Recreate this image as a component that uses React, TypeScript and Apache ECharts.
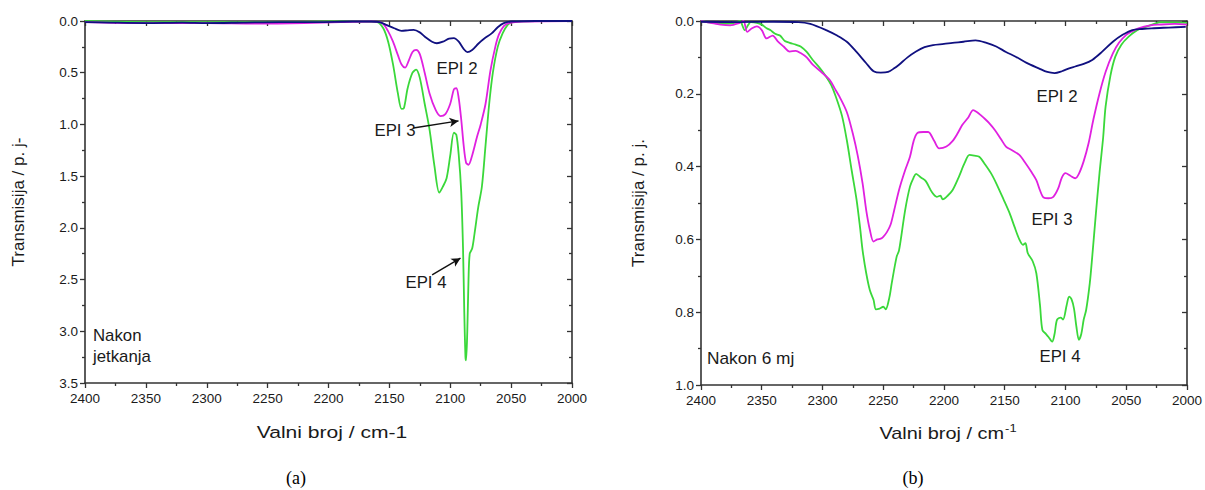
import React, { useEffect, useRef } from "react";
import * as echarts from "echarts";

// ---------- DATA ----------
const xTicksA = [2400, 2350, 2300, 2250, 2200, 2150, 2100, 2050, 2000];
const yTicksA = [0.0, 0.5, 1.0, 1.5, 2.0, 2.5, 3.0, 3.5];
const yTicksB = [0.0, 0.2, 0.4, 0.6, 0.8, 1.0];

// (a) Nakon jetkanja: [wavenumber, transmission]
const aEpi2 = [
  [2400, 0.01], [2380, 0.015], [2350, 0.02], [2320, 0.015], [2300, 0.02], [2270, 0.015],
  [2240, 0.01], [2210, 0.01], [2180, 0.005], [2165, 0.005], [2158, 0.01], [2152, 0.04],
  [2146, 0.07], [2140, 0.095], [2135, 0.09], [2130, 0.085], [2125, 0.11], [2120, 0.16],
  [2115, 0.2], [2111, 0.215], [2106, 0.2], [2101, 0.17], [2097, 0.165], [2093, 0.2],
  [2089, 0.27], [2086, 0.3], [2082, 0.28], [2077, 0.22], [2072, 0.17], [2066, 0.12],
  [2061, 0.06], [2056, 0.02], [2050, 0.005], [2030, 0.0], [2000, 0.0],
];
const aEpi3 = [
  [2400, 0.01], [2350, 0.02], [2300, 0.02], [2260, 0.025], [2220, 0.02], [2190, 0.01],
  [2165, 0.005], [2156, 0.02], [2151, 0.1], [2147, 0.2], [2143, 0.33], [2140, 0.42],
  [2137, 0.45], [2134, 0.38], [2131, 0.3], [2128, 0.28], [2125, 0.32], [2121, 0.5],
  [2117, 0.7], [2112, 0.86], [2108, 0.92], [2104, 0.9], [2100, 0.8], [2097, 0.66],
  [2095, 0.65], [2093, 0.75], [2091, 0.95], [2089, 1.2], [2087, 1.37], [2085, 1.39],
  [2082, 1.3], [2078, 1.12], [2075, 1.0], [2071, 0.8], [2067, 0.48], [2063, 0.25],
  [2060, 0.13], [2056, 0.05], [2052, 0.02], [2040, 0.005], [2000, 0.0],
];
const aEpi4 = [
  [2400, 0.0], [2350, 0.01], [2300, 0.01], [2250, 0.01], [2200, 0.005], [2170, 0.005],
  [2160, 0.01], [2155, 0.07], [2151, 0.2], [2147, 0.42], [2143, 0.7], [2140, 0.85],
  [2138, 0.84], [2135, 0.65], [2131, 0.5], [2128, 0.47], [2125, 0.55], [2121, 0.8],
  [2117, 1.05], [2113, 1.4], [2109, 1.66], [2106, 1.6], [2103, 1.52], [2100, 1.3],
  [2097, 1.08], [2095, 1.1], [2093, 1.3], [2091, 1.65], [2089.5, 2.2], [2088.5, 2.8],
  [2087.5, 3.25], [2087, 3.28], [2086, 3.0], [2085, 2.5], [2084, 2.25], [2082, 2.2],
  [2080, 2.05], [2077, 1.8], [2074, 1.6], [2071, 1.2], [2068, 0.8], [2065, 0.5],
  [2061, 0.25], [2057, 0.12], [2053, 0.04], [2049, 0.01], [2030, 0.0], [2000, 0.0],
];

// (b) Nakon 6 mj
const bEpi2 = [
  [2400, 0.002], [2370, 0.003], [2340, 0.002], [2320, 0.003], [2310, 0.008], [2297, 0.025],
  [2288, 0.04], [2280, 0.057], [2272, 0.085], [2264, 0.116], [2258, 0.138], [2252, 0.142],
  [2246, 0.14], [2241, 0.13], [2237, 0.12], [2230, 0.1], [2223, 0.084], [2216, 0.072],
  [2209, 0.066], [2200, 0.063], [2193, 0.06], [2184, 0.057], [2174, 0.053], [2165, 0.06],
  [2157, 0.07], [2149, 0.085], [2141, 0.098], [2132, 0.115], [2122, 0.13], [2115, 0.14],
  [2109, 0.143], [2103, 0.138], [2097, 0.13], [2092, 0.125], [2085, 0.118], [2078, 0.107],
  [2070, 0.085], [2061, 0.057], [2053, 0.038], [2045, 0.025], [2037, 0.022], [2029, 0.02],
  [2015, 0.018], [2001, 0.016],
];
const bEpi3 = [
  [2400, 0.0], [2392, 0.005], [2384, 0.01], [2376, 0.012], [2368, 0.005], [2365, 0.0],
  [2362, 0.03], [2358, 0.02], [2354, 0.015], [2350, 0.025], [2346, 0.048], [2341, 0.04],
  [2337, 0.055], [2332, 0.07], [2327, 0.084], [2322, 0.082], [2318, 0.088], [2313, 0.1],
  [2308, 0.12], [2301, 0.14], [2294, 0.162], [2290, 0.185], [2286, 0.208], [2280, 0.25],
  [2275, 0.31], [2271, 0.37], [2267, 0.446], [2264, 0.52], [2261, 0.574], [2258, 0.606],
  [2255, 0.6], [2252, 0.598], [2250, 0.593], [2247, 0.58], [2244, 0.56], [2241, 0.52],
  [2237, 0.464], [2232, 0.41], [2228, 0.373], [2225, 0.33], [2222, 0.308], [2217, 0.305],
  [2213, 0.305], [2208, 0.33], [2204, 0.35], [2198, 0.345], [2193, 0.33], [2189, 0.31],
  [2185, 0.286], [2180, 0.265], [2176, 0.245], [2173, 0.25], [2170, 0.258], [2166, 0.27],
  [2163, 0.28], [2158, 0.3], [2153, 0.325], [2149, 0.345], [2144, 0.355], [2138, 0.368],
  [2133, 0.39], [2128, 0.415], [2124, 0.437], [2121, 0.465], [2118, 0.485], [2114, 0.487],
  [2110, 0.483], [2106, 0.46], [2103, 0.43], [2100, 0.418], [2096, 0.425], [2092, 0.432],
  [2089, 0.42], [2085, 0.385], [2081, 0.336], [2077, 0.27], [2072, 0.199], [2067, 0.14],
  [2061, 0.089], [2056, 0.06], [2050, 0.038], [2045, 0.028], [2040, 0.02], [2030, 0.012],
  [2023, 0.01], [2010, 0.008], [2000, 0.01],
];
const bEpi4 = [
  [2400, 0.0], [2390, 0.005], [2380, 0.008], [2372, 0.005], [2368, 0.0], [2364, 0.025],
  [2361, 0.01], [2359, 0.003], [2354, 0.005], [2350, 0.01], [2346, 0.02], [2343, 0.025],
  [2339, 0.035], [2335, 0.04], [2331, 0.055], [2327, 0.06], [2322, 0.065], [2318, 0.07],
  [2313, 0.085], [2308, 0.107], [2302, 0.13], [2297, 0.153], [2293, 0.175], [2289, 0.208],
  [2284, 0.26], [2280, 0.327], [2276, 0.41], [2272, 0.49], [2269, 0.57], [2267, 0.63],
  [2264, 0.693], [2261, 0.74], [2258, 0.766], [2256, 0.792], [2253, 0.79], [2250, 0.785],
  [2248, 0.792], [2245, 0.76], [2243, 0.72], [2239, 0.648], [2237, 0.63], [2232, 0.52],
  [2228, 0.455], [2225, 0.43], [2223, 0.42], [2219, 0.43], [2215, 0.44], [2210, 0.47],
  [2206, 0.483], [2203, 0.48], [2201, 0.49], [2197, 0.48], [2193, 0.465], [2188, 0.43],
  [2183, 0.39], [2179, 0.368], [2175, 0.37], [2171, 0.373], [2166, 0.395], [2161, 0.42],
  [2157, 0.446], [2151, 0.49], [2146, 0.528], [2142, 0.565], [2138, 0.6], [2135, 0.615],
  [2133, 0.61], [2131, 0.638], [2127, 0.66], [2124, 0.693], [2121, 0.78], [2119, 0.849],
  [2116, 0.86], [2114, 0.868], [2111, 0.881], [2109, 0.86], [2107, 0.821], [2104, 0.815],
  [2102, 0.82], [2099, 0.78], [2097, 0.757], [2095, 0.765], [2093, 0.79], [2091, 0.84],
  [2089, 0.876], [2087, 0.86], [2085, 0.82], [2083, 0.794], [2080, 0.72], [2078, 0.648],
  [2075, 0.53], [2072, 0.418], [2069, 0.32], [2067, 0.235], [2063, 0.15], [2059, 0.098],
  [2054, 0.065], [2048, 0.043], [2041, 0.025], [2034, 0.016], [2027, 0.008], [2021, 0.003],
  [2010, 0.004], [2000, 0.005],
];

// arrows in (a): [from, to] in data coords
const arrowEpi3 = [[2130.3, 1.034], [2093.2, 0.966]];
const arrowEpi4 = [[2114.9, 2.454], [2091.6, 2.293]];

// ---------- STYLE ----------
const FONT = "'Liberation Sans', Arial, sans-serif";
const SERIF = "'Liberation Serif', 'Times New Roman', serif";
const AX = "#333333";
const TXT = "#1a1a1a";
const C_EPI2 = "#101080";
const C_EPI3 = "#e020e0";
const C_EPI4 = "#3ad83a";

function xAxes(grid: number) {
  const base = {
    gridIndex: grid,
    type: "value",
    min: xTicksA[xTicksA.length - 1],
    max: xTicksA[0],
    interval: 50,
    inverse: true,
    splitLine: { show: false },
    axisLine: { show: true, onZero: false, lineStyle: { color: AX, width: 1.6 } },
  };
  return [
    {
      ...base,
      position: "bottom",
      axisTick: { show: true, inside: false, length: 5, lineStyle: { color: AX, width: 1.3 } },
      minorTick: { show: true, splitNumber: 2, length: 3, lineStyle: { color: AX, width: 1.3 } },
      axisLabel: {
        show: true, fontFamily: FONT, fontSize: 13.5, color: TXT, margin: 8,
        formatter: (v: number) => String(Math.round(v)),
      },
    },
    {
      ...base,
      position: "top",
      axisTick: { show: true, inside: true, length: 5, lineStyle: { color: AX, width: 1.3 } },
      minorTick: { show: true, splitNumber: 2, length: 3, lineStyle: { color: AX, width: 1.3 } },
      axisLabel: { show: false },
    },
  ];
}

function yAxes(grid: number, ticks: number[], step: number, name: string, gap: number) {
  const base = {
    gridIndex: grid,
    type: "value",
    min: ticks[0],
    max: ticks[ticks.length - 1],
    interval: step,
    inverse: true,
    splitLine: { show: false },
    axisLine: { show: true, onZero: false, lineStyle: { color: AX, width: 1.6 } },
  };
  return [
    {
      ...base,
      position: "left",
      axisTick: { show: true, inside: false, length: 5, lineStyle: { color: AX, width: 1.3 } },
      minorTick: { show: true, splitNumber: 2, length: 3, lineStyle: { color: AX, width: 1.3 } },
      axisLabel: {
        show: true, fontFamily: FONT, fontSize: 13.5, color: TXT, margin: 7,
        formatter: (v: number) => v.toFixed(1),
      },
      name,
      nameLocation: "middle",
      nameGap: gap,
      nameRotate: 90,
      nameTextStyle: { fontFamily: FONT, fontSize: 17, color: TXT },
    },
    {
      ...base,
      position: "right",
      axisTick: { show: true, inside: true, length: 5, lineStyle: { color: AX, width: 1.3 } },
      minorTick: { show: true, splitNumber: 2, length: 3, lineStyle: { color: AX, width: 1.3 } },
      axisLabel: { show: false },
    },
  ];
}

function line(data: number[][], color: string, xi: number, yi: number, extra: any = {}) {
  return {
    type: "line",
    data,
    xAxisIndex: xi,
    yAxisIndex: yi,
    showSymbol: false,
    symbol: "none",
    smooth: 0.3,
    lineStyle: { color, width: 1.8 },
    itemStyle: { color },
    silent: true,
    ...extra,
  };
}

function arrowMark(arrows: number[][][]) {
  return {
    markLine: {
      silent: true,
      animation: false,
      symbol: ["none", "arrow"],
      symbolSize: [7, 9],
      label: { show: false },
      lineStyle: { color: "#111", width: 1.4, type: "solid" },
      data: arrows.map((a) => [{ coord: a[0] }, { coord: a[1] }]),
    },
  };
}

function label(text: string, x: number, y: number, align = "center", scaleX = 1.05) {
  return {
    type: "text",
    x,
    y,
    scaleX,
    style: {
      text,
      fontFamily: FONT,
      fontSize: 16,
      fill: TXT,
      align,
      verticalAlign: "middle",
      lineHeight: 21,
    },
  };
}

function xTitle(text: string, x: number, y: number, scaleX: number) {
  return {
    type: "text",
    x,
    y,
    scaleX,
    style: {
      text,
      fontFamily: FONT,
      fontSize: 17,
      fill: TXT,
      align: "center",
      verticalAlign: "middle",
      rich: {
        sup: { fontFamily: FONT, fontSize: 11, fill: TXT, verticalAlign: "top", padding: [0, 0, 10, 1] },
      },
    },
  };
}

export default function App() {
  const ref = useRef<HTMLDivElement>(null);
  useEffect(() => {
    if (!ref.current) return;
    const chart = echarts.init(ref.current, null, { renderer: "svg" });
    const option: any = {
      animation: false,
      backgroundColor: "#ffffff",
      grid: [
        { left: 85, top: 21, width: 487, height: 362 },
        { left: 701, top: 21, width: 487, height: 364 },
      ],
      xAxis: [...xAxes(0), ...xAxes(1)],
      yAxis: [
        ...yAxes(0, yTicksA, 0.5, "Transmisija / p. j-", 58),
        ...yAxes(1, yTicksB, 0.2, "Transmisija / p. j.", 54),
      ],
      series: [
        line(aEpi4, C_EPI4, 0, 0, arrowMark([arrowEpi4])),
        line(aEpi3, C_EPI3, 0, 0, arrowMark([arrowEpi3])),
        line(aEpi2, C_EPI2, 0, 0),
        line(bEpi4, C_EPI4, 2, 2),
        line(bEpi3, C_EPI3, 2, 2),
        line(bEpi2, C_EPI2, 2, 2),
      ],
      graphic: [
        xTitle("Valni broj / cm-1", 332, 432, 1.24),
        xTitle("Valni broj / cm{sup|-1}", 948, 433, 1.17),
        label("EPI 2", 457, 68),
        label("EPI 3", 395, 130),
        label("EPI 4", 426, 282),
        label("Nakon\njetkanja", 93, 346, "left"),
        label("EPI 2", 1057, 96),
        label("EPI 3", 1052, 219),
        label("EPI 4", 1060, 356),
        label("Nakon 6 mj", 707, 359, "left", 1.08),
        {
          type: "text", x: 296, y: 478,
          style: { text: "(a)", fontFamily: SERIF, fontSize: 18, fill: "#000", align: "center", verticalAlign: "middle" },
        },
        {
          type: "text", x: 913, y: 478,
          style: { text: "(b)", fontFamily: SERIF, fontSize: 18, fill: "#000", align: "center", verticalAlign: "middle" },
        },
      ],
    };
    chart.setOption(option);
    return () => chart.dispose();
  }, []);
  return (
    <div
      ref={ref}
      style={{ position: "absolute", left: 0, top: 0, width: 1205, height: 490, background: "#fff" }}
    />
  );
}
